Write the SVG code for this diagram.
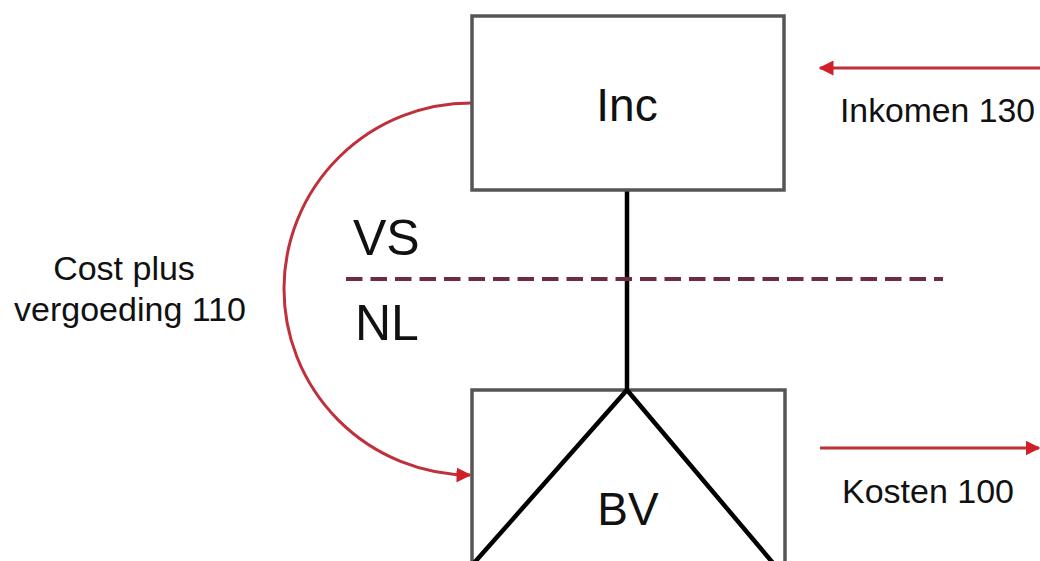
<svg xmlns="http://www.w3.org/2000/svg" width="1040" height="561" viewBox="0 0 1040 561">
<style>
.box{fill:#fff;stroke:#555;stroke-width:3.5}
.blk{stroke:#000;stroke-width:4.5;fill:none}
.red{stroke:#c0303a;stroke-width:3;fill:none}
.lbl{font-family:"Liberation Sans",Arial,sans-serif;fill:#111}
.big{font-family:"Liberation Sans",Arial,sans-serif;fill:#111;font-size:46px}
</style>
<defs>
<marker id="ah" viewBox="0 0 10 10" refX="9" refY="5" markerWidth="5" markerHeight="5" orient="auto" markerUnits="strokeWidth">
<path d="M0,0 L10,5 L0,10 z" fill="#d0202a"/>
</marker>
</defs>
<rect width="1040" height="561" fill="#fff"/>
<g id="connectors">
<line class="blk" x1="627" y1="190" x2="627" y2="390"/>
<line x1="346" y1="279" x2="943" y2="279" stroke="#6e2c3e" stroke-width="4" stroke-dasharray="16.5 8"/>
<path class="red" d="M472 103 A187 186 0 0 0 470 475" marker-end="url(#ah)"/>
<line class="red" x1="1040" y1="68" x2="820" y2="68" marker-end="url(#ah)"/>
<line class="red" x1="820" y1="448" x2="1039" y2="448" marker-end="url(#ah)"/>
</g>
<g id="inc">
<rect class="box" x="472" y="16" width="312" height="174"/>
<text class="big" x="627" y="121" text-anchor="middle">Inc</text>
</g>
<g id="bv">
<rect class="box" x="472" y="390" width="313" height="180"/>
<path class="blk" d="M474 563 L627 390 L773 563"/>
<text class="big" x="628" y="525" text-anchor="middle">BV</text>
</g>
<g id="labels">
<text class="lbl" x="124" y="280" font-size="34" text-anchor="middle">Cost plus</text>
<text class="lbl" x="130" y="321" font-size="34" text-anchor="middle">vergoeding 110</text>
<text class="lbl" x="353" y="255" font-size="50">VS</text>
<text class="lbl" x="355" y="340" font-size="50">NL</text>
<text class="lbl" x="840" y="122" font-size="34" textLength="195" lengthAdjust="spacingAndGlyphs">Inkomen 130</text>
<text class="lbl" x="842" y="503" font-size="34">Kosten 100</text>
</g>
</svg>
